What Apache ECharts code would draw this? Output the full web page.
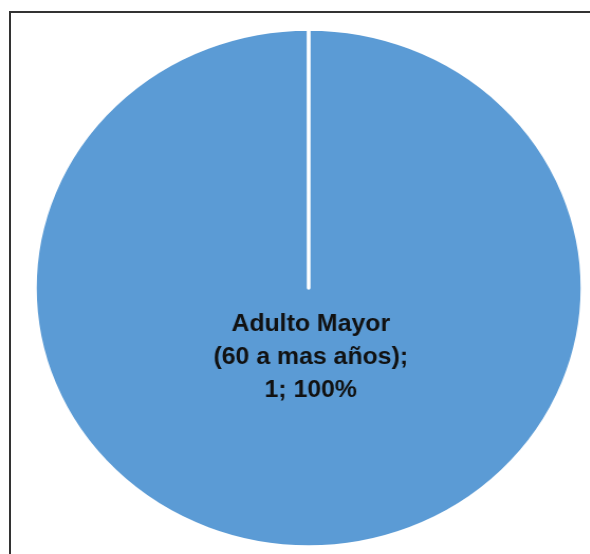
<!DOCTYPE html>
<html>
<head>
<meta charset="utf-8">
<script src="https://cdn.jsdelivr.net/npm/echarts@6/dist/echarts.min.js"></script>
<style>
  html, body {
    margin: 0;
    padding: 0;
    background: #fff;
    overflow: hidden;
  }

  .frame {
    position: absolute;
    left: 9px;
    top: 11px;
    width: 700px;
    height: 700px;
    border-left: 2px solid #333;
    border-top: 2px solid #333;
  }

  /* the reference pie is a bit wider than tall, so stretch the chart sideways */
  #myChart {
    position: absolute;
    left: 0;
    top: 0;
    width: 558px;
    height: 554px;
    transform: scale(1.057, 1);
    transform-origin: 0 0;
  }
</style>
</head>
<body>
<div class="frame"></div>
<div id="myChart"></div>
<script>
  // datos del gráfico
  const categories = ['Adulto Mayor\n(60 a mas años)'];
  const values = [1];
  const colors = ['#5B9BD5'];

  let myChart = echarts.init(document.getElementById('myChart'));

  myChart.setOption({
    animation: false,
    color: colors,
    series: [
      {
        type: 'pie',
        center: [292, 288],
        radius: 259,
        startAngle: 90,
        padAngle: 0.05,
        silent: true,
        itemStyle: {
          borderColor: '#fff',
          borderWidth: 3.5
        },
        label: {
          show: true,
          position: 'center',
          offset: [2, 70],
          formatter: '{b};\n{c}; {d}%',
          fontFamily: 'Liberation Sans',
          fontWeight: 'bold',
          fontSize: 23.5,
          lineHeight: 33,
          color: '#111'
        },
        labelLine: {show: false},
        data: categories.map(function (name, i) {
          return {name: name, value: values[i]};
        })
      }
    ]
  });
</script>
</body>
</html>
